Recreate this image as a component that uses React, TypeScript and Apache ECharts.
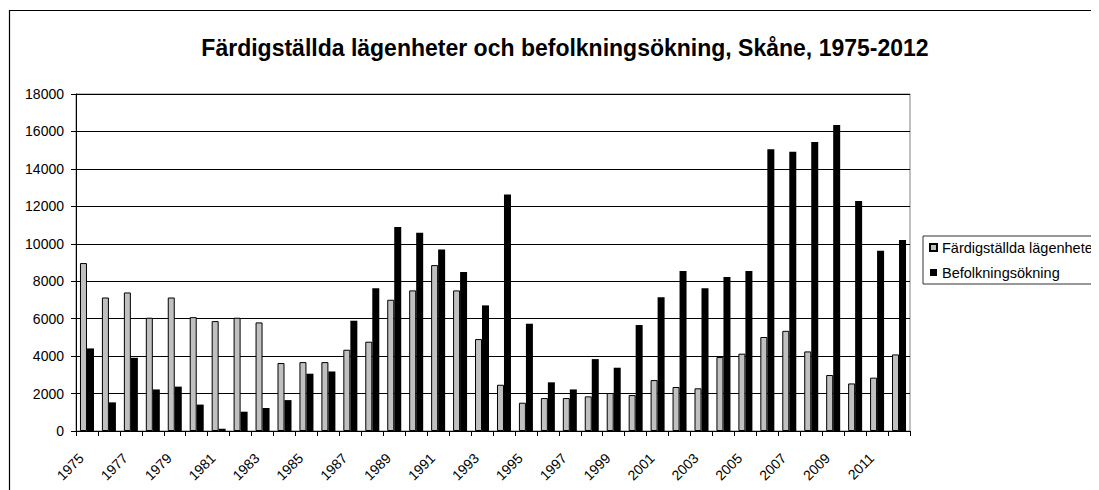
import React, { useEffect, useRef } from "react";
import * as echarts from "echarts";

const years = [
  "1975", "1976", "1977", "1978", "1979", "1980", "1981", "1982", "1983", "1984",
  "1985", "1986", "1987", "1988", "1989", "1990", "1991", "1992", "1993", "1994",
  "1995", "1996", "1997", "1998", "1999", "2000", "2001", "2002", "2003", "2004",
  "2005", "2006", "2007", "2008", "2009", "2010", "2011", "2012",
];

const completedDwellings = [
  8970, 7130, 7400, 6050, 7130, 6080, 5870, 6050, 5800, 3630,
  3680, 3680, 4340, 4770, 7010, 7510, 8860, 7510, 4910, 2470,
  1510, 1760, 1760, 1850, 2030, 1920, 2720, 2350, 2280, 3950,
  4130, 5020, 5350, 4250, 2990, 2540, 2850, 4090,
];

const populationIncrease = [
  4410, 1530, 3910, 2220, 2370, 1410, 120, 1030, 1230, 1650,
  3060, 3180, 5890, 7630, 10900, 10590, 9700, 8490, 6710, 12630,
  5730, 2600, 2220, 3840, 3380, 5660, 7150, 8540, 7630, 8220,
  8540, 15050, 14910, 15430, 16350, 12290, 9630, 10200,
];

const seriesNames = ["Färdigställda lägenheter", "Befolkningsökning"];
const titleText = "Färdigställda lägenheter och befolkningsökning, Skåne, 1975-2012";

const FONT = "'Liberation Sans', Arial, sans-serif";

export default function App() {
  const ref = useRef<HTMLDivElement>(null);

  useEffect(() => {
    if (!ref.current) return;
    const chart = echarts.init(ref.current, null, { renderer: "svg" });
    chart.setOption({
      animation: false,
      backgroundColor: "#ffffff",
      textStyle: { fontFamily: FONT },
      title: {
        text: titleText,
        left: 552,
        top: 23,
        textAlign: "center",
        textStyle: { fontFamily: FONT, fontSize: 23, fontWeight: "bold", color: "#000" },
      },
      graphic: [
        {
          type: "rect",
          shape: { x: 1.5, y: 2.5, width: 1200, height: 600 },
          style: { fill: "none", stroke: "#000", lineWidth: 1.2 },
          silent: true,
        },
      ],
      legend: {
        orient: "vertical",
        left: 915,
        top: 228,
        padding: [4, 8, 4, 6],
        itemWidth: 7,
        itemHeight: 7,
        itemGap: 10,
        borderColor: "#333",
        borderWidth: 1,
        icon: "rect",
        textStyle: { fontFamily: FONT, fontSize: 14.5, color: "#000" },
        data: seriesNames,
      },
      grid: {
        left: 68,
        right: 189,
        top: 86,
        bottom: 59,
        show: true,
        borderColor: "#808080",
        borderWidth: 1,
        containLabel: false,
      },
      xAxis: {
        type: "category",
        data: years,
        boundaryGap: true,
        axisLine: { show: true, lineStyle: { color: "#000", width: 1 } },
        axisTick: { show: true, interval: 0, length: 5, lineStyle: { color: "#000" } },
        axisLabel: {
          interval: 1,
          rotate: 45,
          margin: 19,
          padding: [0, 8, 0, 0],
          fontFamily: FONT,
          fontSize: 14,
          color: "#000",
        },
      },
      yAxis: {
        type: "value",
        min: 0,
        max: 18000,
        interval: 2000,
        axisLine: { show: true, lineStyle: { color: "#000", width: 1 } },
        axisTick: { show: true, length: 5, lineStyle: { color: "#000" } },
        axisLabel: {
          margin: 12,
          fontFamily: FONT,
          fontSize: 14,
          color: "#000",
          formatter: (v: number) => String(v),
        },
        splitLine: { show: true, lineStyle: { color: "#000", width: 1 } },
      },
      series: [
        {
          name: seriesNames[0],
          type: "bar",
          data: completedDwellings,
          barWidth: 7,
          barGap: "0%",
          itemStyle: { color: "#c0c0c0", borderColor: "#000", borderWidth: 1 },
        },
        {
          name: seriesNames[1],
          type: "bar",
          data: populationIncrease,
          barWidth: 7,
          barGap: "0%",
          itemStyle: { color: "#000", borderColor: "#000", borderWidth: 0 },
        },
      ],
    });
    return () => chart.dispose();
  }, []);

  return <div ref={ref} style={{ width: 1091, height: 482 }} />;
}
